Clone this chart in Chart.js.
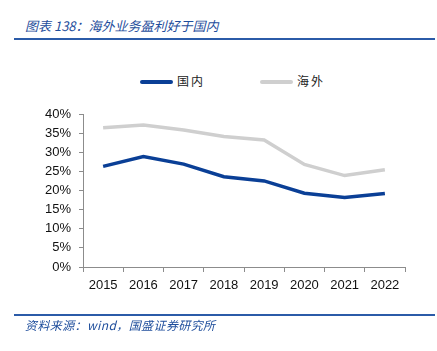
<!DOCTYPE html>
<html lang="zh">
<head>
<meta charset="UTF-8">
<title>海外业务盈利好于国内</title>
<script src="https://cdn.jsdelivr.net/npm/chart.js"></script>
<style>
  body { margin: 0; background: #fff; }
  #wrap { position: relative; width: 437px; height: 351px; overflow: hidden; }
  #chart { position: absolute; left: 0; top: 0; }
  .title { position: absolute; left: 25px; top: 16px; font: italic 13px "Noto Sans CJK SC", sans-serif; color: #1f4e9c; white-space: nowrap; }
  .rule { position: absolute; left: 14px; width: 421px; height: 2px; background: #2b5ba8; }
  .source { position: absolute; left: 25px; top: 316px; font: italic 12px "Noto Sans CJK SC", sans-serif; color: #1f4e9c; white-space: nowrap; letter-spacing: 0.4px; }
  #legend { position: absolute; top: 73px; left: 0; width: 437px; height: 16px; }
  .lg { position: absolute; top: 0; font: 12px "Noto Sans CJK SC", sans-serif; color: #222; letter-spacing: 2px; line-height: 16px; }
  .lg i { display: inline-block; width: 33px; height: 4px; border-radius: 2px; vertical-align: middle; margin-right: 4px; position: relative; top: -1px; }
</style>
</head>
<body>
<div id="wrap">
  <div class="title">图表 138：海外业务盈利好于国内</div>
  <div class="rule" style="top:38px"></div>
  <div id="legend"></div>
  <canvas id="chart" width="437" height="351"></canvas>
  <div class="rule" style="top:314px"></div>
  <div class="source">资料来源：wind，国盛证券研究所</div>
</div>
<script>
  // years on the x axis
  const years = ['2015', '2016', '2017', '2018', '2019', '2020', '2021', '2022'];
  // profit margin, %
  const domestic = [26.3, 28.9, 26.9, 23.6, 22.5, 19.3, 18.2, 19.2];
  const overseas = [36.4, 37.1, 35.8, 34.1, 33.2, 26.8, 23.9, 25.4];
  const seriesNames = ['国内', '海外'];
  const seriesColors = ['#0a3f96', '#cfcfcf'];

  // legend built from the series
  const legend = document.getElementById('legend');
  const legendX = [140, 260];
  seriesNames.forEach((name, i) => {
    const el = document.createElement('div');
    el.className = 'lg';
    el.style.left = legendX[i] + 'px';
    el.innerHTML = '<i style="background:' + seriesColors[i] + '"></i>' + name;
    legend.appendChild(el);
  });

  const axisColor = '#8c8c8c';
  const tickFont = { family: '"Liberation Sans", Arial, sans-serif', size: 13 };

  new Chart(document.getElementById('chart'), {
    type: 'line',
    data: {
      labels: years,
      datasets: [
        { label: seriesNames[0], data: domestic, borderColor: seriesColors[0], borderWidth: 3.5 },
        { label: seriesNames[1], data: overseas, borderColor: seriesColors[1], borderWidth: 3.5 }
      ]
    },
    options: {
      responsive: false,
      animation: false,
      layout: { padding: { left: 0, right: 32, top: 114, bottom: 51 } },
      elements: { point: { radius: 0 }, line: { tension: 0, borderCapStyle: 'butt' } },
      plugins: { legend: { display: false }, tooltip: { enabled: false } },
      scales: {
        x: {
          offset: true,
          grid: { offset: true, drawOnChartArea: false, drawTicks: true, tickLength: 5, color: axisColor },
          border: { color: axisColor },
          ticks: { color: '#111', font: tickFont, padding: 6, maxRotation: 0 },
          afterFit: s => { s.height = 33; }
        },
        y: {
          min: 0,
          max: 0.4,
          grid: { drawOnChartArea: false, drawTicks: true, tickLength: 4, color: axisColor },
          border: { color: axisColor },
          ticks: {
            stepSize: 0.05,
            color: '#111',
            font: tickFont,
            padding: 8,
            callback: v => Math.round(v * 100) + '%'
          },
          afterFit: s => { s.width = 83; }
        }
      }
    },
    plugins: [{
      // series are stored in %, scale is in fractions
      id: 'pct',
      beforeInit: c => { c.data.datasets.forEach(d => { d.data = d.data.map(v => v / 100); }); }
    }]
  });
</script>
</body>
</html>
